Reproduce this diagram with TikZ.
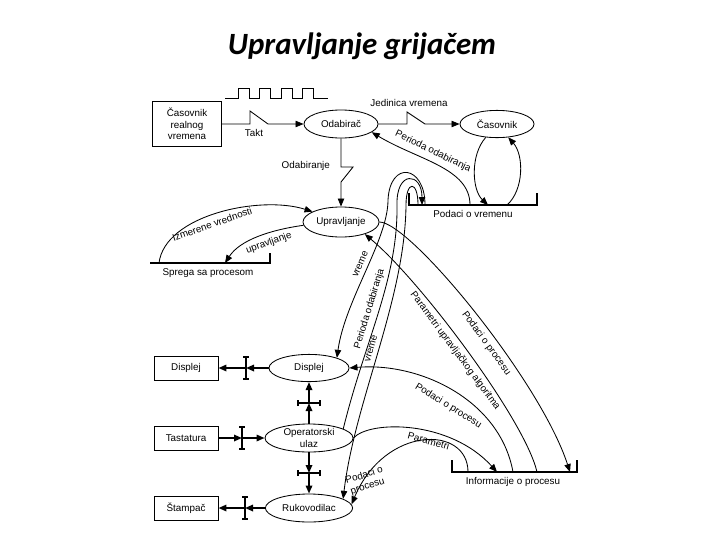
\documentclass[tikz,border=0pt]{standalone}
\usepackage{fontspec}
\setmainfont{Liberation Sans}
\newfontfamily\naslovfont{Carlito}
\usetikzlibrary{shapes.geometric,arrows.meta}

\tikzset{prekid/.pic={\draw[line width=0.9pt] (0,-11) -- (0,11) (-3,-11) -- (3,-11) (-3,11) -- (3,11);}}

\begin{document}
\begin{tikzpicture}[x=0.025cm,y=-0.025cm,>={Triangle[length=2mm,width=1.6mm]},
  font=\fontsize{7}{8.2}\selectfont, line width=0.6pt,
  proces/.style={ellipse,draw,inner sep=0pt,minimum width=1.9cm,minimum height=0.72cm},
  entitet/.style={rectangle,draw,inner sep=1pt,minimum width=1.6cm,minimum height=0.6cm},
  skladiste/.style={line width=1.3pt},
  jak/.style={line width=1.3pt}]
\useasboundingbox (0,0) rectangle (720,540);

  \node (naslov) at (362,46) {\fontsize{22}{26}\selectfont\naslovfont\bfseries\itshape Upravljanje grijačem};

  \node[entitet,minimum width=1.72cm,minimum height=1.12cm,align=center] (casrv) at (187,124) {Časovnik\\realnog\\vremena};
  \node[proces,minimum width=1.85cm,minimum height=0.7cm] (odab) at (341,124) {Odabirač};
  \node[proces,minimum width=1.85cm,minimum height=0.68cm] (casov) at (497,124) {Časovnik};
  \node[proces,minimum height=0.75cm] (uprav) at (341,222) {Upravljanje};
  \node[proces,minimum width=2cm,minimum height=0.68cm] (displ) at (309,368) {Displej};
  \node[proces,minimum width=2.2cm,minimum height=0.7cm,align=center] (oper) at (309,438) {Operatorski\\ulaz};
  \node[proces,minimum width=2.18cm,minimum height=0.7cm] (rukov) at (309,508) {Rukovodilac};
  \node[entitet] (dbox) at (186,368) {Displej};
  \node[entitet] (tbox) at (186,438) {Tastatura};
  \node[entitet] (sbox) at (186,508) {Štampač};

  \draw[skladiste] (409,193) -- (409,205) -- (537,205) -- (537,193);
  \node (pvlab) at (473,214) {Podaci o vremenu};
  \draw[skladiste] (150,263) -- (270,263) -- (270,253);
  \node (splab) at (208,273) {Sprega sa procesom};
  \draw[skladiste] (452,460) -- (452,472) -- (577,472) -- (577,460);
  \node (iplab) at (513,482) {Informacije o procesu};

  \coordinate (pvA) at (425,205);
  \coordinate (pvB) at (422,205);
  \coordinate (pvC) at (418,205);
  \coordinate (pvD) at (470,205);
  \coordinate (pvE) at (488,205);
  \coordinate (pvF) at (507,205);
  \coordinate (spA) at (159,263);
  \coordinate (spB) at (225,263);
  \coordinate (ipA) at (468,472);
  \coordinate (ipB) at (497,472);
  \coordinate (ipC) at (513,472);
  \coordinate (ipD) at (537,472);
  \coordinate (ipE) at (570,472);

  \draw (225,98) -- (238,98) -- (238,88) -- (249,88) -- (249,98) -- (259,98) -- (259,88) -- (270,88) -- (270,98)
    -- (281,98) -- (281,88) -- (292,88) -- (292,98) -- (302,98) -- (302,88) -- (313,88) -- (313,98) -- (328,98);

  \draw[->] (casrv.east) -- (250,124) -- (250,111) -- (268,124) -- (odab.west);
  \node (takt) at (254,133) {Takt};
  \draw[->] (odab.east) -- (407,124) -- (407,112) -- (425,124) -- (casov.west);
  \node (jed) at (409,103) {Jedinica vremena};
  \draw[->] (odab.south) -- (341,167) -- (353,167) -- (341,182) -- (uprav.north);
  \node[anchor=east] (odabl) at (335,166) {Odabiranje};

  \draw[->] (casov.230) .. controls (470,155) and (472,190) .. (pvE);
  \draw[->] (pvF) .. controls (524,190) and (524,155) .. (casov.-50);
  \draw[->] (pvD) .. controls (470,168) and (418,160) .. (odab.-15) node[pos=0.58,sloped,above] {Perioda odabiranja};

  \draw[->] (spA) .. controls (165,215) and (260,195) .. (uprav.160) node[pos=0.45,sloped,below] {Izmerene vrednosti};
  \draw[->] (uprav.185) .. controls (270,230) and (240,240) .. (spB) node[pos=0.4,sloped,below] {upravljanje};

  \draw[->] (pvA) .. controls (425,165) and (390,160) .. (388,200) .. controls (388,240) and (345,300) .. (displ.20) node[pos=0.47,sloped,above] {vreme};
  \draw[->] (oper.15) .. controls (365,340) and (398,280) .. (397,205) node[pos=0.5,sloped,above] {Perioda odabiranja} .. controls (396,170) and (422,172) .. (pvB);
  \draw[->] (pvC) .. controls (418,180) and (406,180) .. (406,205) .. controls (405,300) and (355,400) .. (rukov.15) node[pos=0.5,sloped,above] {vreme};

  \draw[->] (uprav.east) .. controls (410,222) and (540,380) .. (ipE) node[pos=0.58,sloped,below] {Podaci o procesu};
  \draw[->] (ipD) .. controls (525,420) and (420,280) .. (uprav.-27) node[pos=0.52,sloped,below] {Parametri upravljačkog algoritma};
  \draw[->] (ipC) .. controls (500,400) and (420,362) .. (displ.east) node[pos=0.48,sloped,below=4pt] {Podaci o procesu};
  \draw[->] (oper.east) .. controls (370,420) and (450,420) .. (ipB) node[pos=0.6,sloped,below] {Parametri};
  \draw[->] (ipA) .. controls (468,425) and (385,425) .. (rukov.5);
  \node[rotate=17,align=center] (ppr) at (366,481) {Podaci o\\procesu};

  \coordinate (b1) at (246,368);
  \coordinate (b2) at (242,438);
  \coordinate (b3) at (245,508);
  \coordinate (b4) at (309,403);
  \coordinate (b5) at (309,473);
  \draw[jak,->] (displ.west) -- (b1);
  \draw[jak,->] (b1) -- (dbox.east);
  \draw[jak,->] (tbox.east) -- (b2);
  \draw[jak,->] (b2) -- (oper.west);
  \draw[jak,->] (rukov.west) -- (b3);
  \draw[jak,->] (b3) -- (sbox.east);
  \draw[jak,->] (oper.north) -- (b4);
  \draw[jak,->] (b4) -- (displ.south);
  \draw[jak,->] (oper.south) -- (b5);
  \draw[jak,->] (b5) -- (rukov.north);
  \pic at (b1) {prekid};
  \pic at (b2) {prekid};
  \pic at (b3) {prekid};
  \pic[rotate=90] at (b4) {prekid};
  \pic[rotate=90] at (b5) {prekid};
\end{tikzpicture}
\end{document}
